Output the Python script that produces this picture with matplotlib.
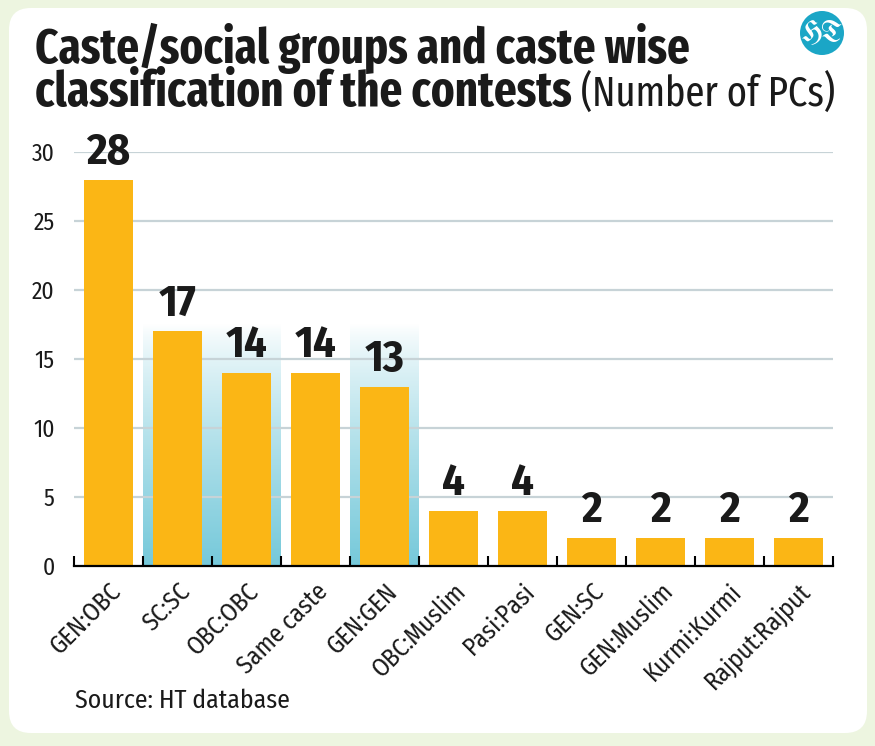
import numpy as np
import matplotlib
matplotlib.use("Agg")
import matplotlib.pyplot as plt
from matplotlib.patches import FancyBboxPatch, Ellipse
from matplotlib.colors import LinearSegmentedColormap
from matplotlib import font_manager

# data
categories = ["GEN:OBC", "SC:SC", "OBC:OBC", "Same caste", "GEN:GEN", "OBC:Muslim",
              "Pasi:Pasi", "GEN:SC", "GEN:Muslim", "Kurmi:Kurmi", "Rajput:Rajput"]
values = [28, 17, 14, 14, 13, 4, 4, 2, 2, 2, 2]
highlighted = ["SC:SC", "OBC:OBC", "GEN:GEN"]
yticks = [0, 5, 10, 15, 20, 25, 30]

names = {f.name for f in font_manager.fontManager.ttflist}


def pick(cands, default="DejaVu Sans"):
    for c in cands:
        if c in names:
            return c
    return default


FONT = pick(["Fira Sans Condensed", "PT Sans Narrow", "Roboto Condensed",
             "Open Sans Condensed", "Archivo Narrow", "Liberation Sans Narrow"])
TITLE_FONT = pick(["Fira Sans Extra Condensed", "Fira Sans Condensed"], FONT)
LOGO_FONT = pick(["UnifrakturMaguntia", "UnifrakturCook"], "DejaVu Serif")
plt.rcParams["font.family"] = [FONT, "DejaVu Sans"]

W, H = 875, 746
fig = plt.figure(figsize=(W / 100, H / 100), dpi=100)
fig.patch.set_facecolor("#edf5e0")


def fx(px):
    return px / W


def fy(py):
    return 1 - py / H


# white rounded panel
panel = FancyBboxPatch((fx(9), fy(733)), fx(858), 725 / H,
                       boxstyle="round,pad=0,rounding_size=0.025",
                       transform=fig.transFigure, facecolor="white",
                       edgecolor="none", mutation_aspect=W / H, zorder=-10)
fig.patches.append(panel)

# title, sized so the lines span the same width as the reference
t1 = fig.text(fx(35), fy(63), "Caste/social groups and caste wise", fontsize=30,
              family=TITLE_FONT, fontweight="bold", color="#1a1a1a",
              ha="left", va="baseline")
fig.canvas.draw()
fs = 30 * 655 / t1.get_window_extent().width
t1.set_fontsize(fs)
t2 = fig.text(fx(35), fy(106), "classification of the contests", fontsize=fs,
              family=TITLE_FONT, fontweight="bold", color="#1a1a1a",
              ha="left", va="baseline")
fig.canvas.draw()
x0 = t2.get_window_extent().x1 + 9
t3 = fig.text(x0 / W, fy(106), "(Number of PCs)", fontsize=fs, family=TITLE_FONT,
              color="#1a1a1a", ha="left", va="baseline")
fig.canvas.draw()
t3.set_fontsize(fs * (835 - x0) / t3.get_window_extent().width)

# HT logo
logo = Ellipse((fx(822), fy(33)), 44 / W, 44 / H, transform=fig.transFigure,
               facecolor="#1ba6c6", edgecolor="none", zorder=5)
fig.patches.append(logo)
fig.text(fx(822), fy(34), "HT", fontsize=20, color="white", family=LOGO_FONT,
         ha="center", va="center", zorder=6)

# chart
ax = fig.add_axes([fx(74), fy(566), fx(759), (566 - 152) / H])
ax.set_facecolor("none")
x = np.arange(len(categories))

cmap = LinearSegmentedColormap.from_list("fade", ["#ffffff", "#76c9da"])
grad = np.linspace(0, 1, 256).reshape(-1, 1) ** 0.8
for i, c in enumerate(categories):
    if c in highlighted:
        ax.imshow(grad, cmap=cmap, origin="upper", aspect="auto",
                  extent=(i - 0.5, i + 0.5, 0, 17.5), zorder=0.5)
ax.set_xlim(-0.5, len(categories) - 0.5)
ax.set_ylim(0, 30)

for yv in yticks[1:]:
    ax.axhline(yv, color="#c7d3d7", lw=1.6, zorder=1)

ax.bar(x, values, width=0.71, color="#fbb615", zorder=2)
for xi, v in zip(x, values):
    ax.annotate(str(v), (xi, v), xytext=(0, 11.5), textcoords="offset points",
                ha="center", va="baseline", fontsize=32, fontweight="bold",
                color="#1a1a1a", annotation_clip=False)

ax.vlines(np.arange(len(categories) + 1) - 0.5, 0, 0.7, color="black", lw=1.5,
          zorder=3, clip_on=False)

for s in ("left", "right", "top"):
    ax.spines[s].set_visible(False)
ax.spines["bottom"].set_linewidth(1.6)
ax.spines["bottom"].set_zorder(4)

ax.set_yticks(yticks)
ax.set_yticklabels([str(t) for t in yticks], fontsize=17, color="#1a1a1a")
ax.tick_params(axis="y", length=0, pad=14)
ax.set_xticks(x)
ax.set_xticklabels(categories, rotation=45, ha="right", rotation_mode="anchor",
                   fontsize=18, color="#1a1a1a")
ax.tick_params(axis="x", length=0, pad=9)

fig.text(fx(75), fy(708), "Source: HT database", fontsize=18.5, color="#1a1a1a",
         ha="left", va="baseline")

fig.savefig("out.png", dpi=100, facecolor=fig.get_facecolor())
